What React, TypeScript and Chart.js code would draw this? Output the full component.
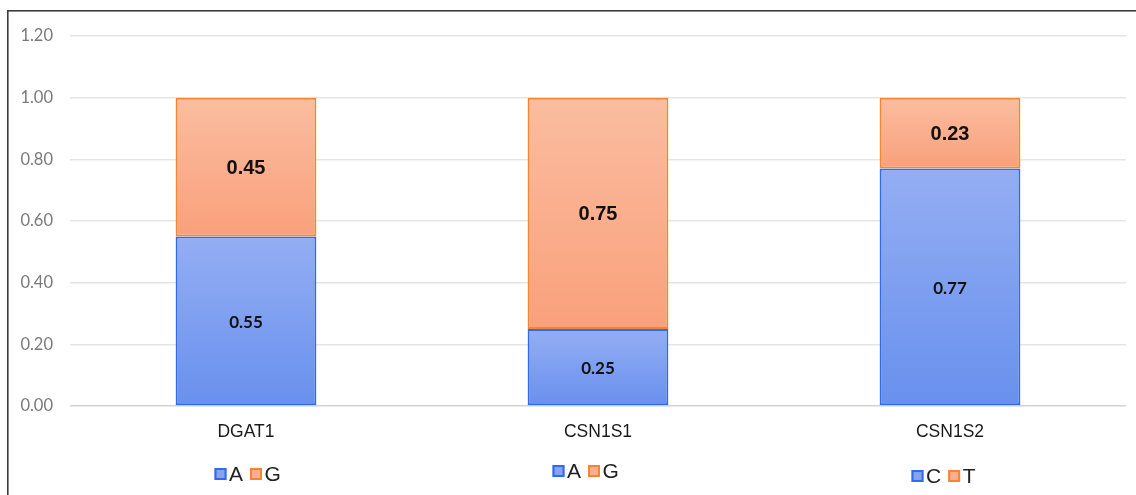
import React, { useEffect, useRef } from "react";
import { Chart, registerables } from "chart.js";

Chart.register(...registerables);

const categories = ["DGAT1", "CSN1S1", "CSN1S2"];
const lowerValues = [0.55, 0.25, 0.77];
const upperValues = [0.45, 0.75, 0.23];
const lowerAlleles = ["A", "A", "C"];
const upperAlleles = ["G", "G", "T"];
const yTicks = [0, 0.2, 0.4, 0.6, 0.8, 1.0, 1.2];

// layout of the per-category legends (style, not data)
const legendLayout = [
  { dx: -31.5, y: 474 },
  { dx: -45.5, y: 471 },
  { dx: -38.5, y: 476 },
];

const BLUE_TOP = "#94aef3";
const BLUE_BOTTOM = "#6890ee";
const BLUE_BORDER = "#2d6cef";
const ORANGE_TOP = "#fbbda0";
const ORANGE_BOTTOM = "#f9a07b";
const ORANGE_BORDER = "#f7842e";

function makeFill(top: string, bottom: string, fallback: string, lower: boolean) {
  return (ctx: any) => {
    const chart = ctx.chart;
    const y = chart.scales && chart.scales.y;
    if (!y || ctx.type !== "data" || !chart.chartArea) return fallback;
    const i = ctx.dataIndex;
    const base = lower ? 0 : lowerValues[i];
    const end = base + (lower ? lowerValues[i] : upperValues[i]);
    const y0 = y.getPixelForValue(end);
    const y1 = y.getPixelForValue(base);
    if (!isFinite(y0) || !isFinite(y1)) return fallback;
    const g = chart.ctx.createLinearGradient(0, y0, 0, y1);
    g.addColorStop(0, top);
    g.addColorStop(1, bottom);
    return g;
  };
}

const framePlugin = {
  id: "frame",
  beforeDraw(chart: any) {
    const c = chart.ctx;
    c.save();
    c.fillStyle = "#3c3c3c";
    c.fillRect(7, 10, chart.width - 7, 1.6);
    c.fillRect(7, 10, 1.6, chart.height - 10);
    c.restore();
  },
};

const labelPlugin = {
  id: "segLabels",
  afterDatasetsDraw(chart: any) {
    const c = chart.ctx;
    c.save();
    c.textAlign = "center";
    c.textBaseline = "middle";
    c.fillStyle = "#111111";
    chart.data.datasets.forEach((ds: any, di: number) => {
      const meta = chart.getDatasetMeta(di);
      c.font = di === 0 ? 'bold 17px Lato' : 'bold 20px "Liberation Sans"';
      meta.data.forEach((el: any, i: number) => {
        const v = ds.data[i];
        const yc = (el.y + el.base) / 2 + 1.5;
        c.fillText(Number(v).toFixed(2), el.x, yc);
      });
    });
    c.restore();
  },
};

const legendPlugin = {
  id: "catLegends",
  afterDraw(chart: any) {
    const c = chart.ctx;
    const xs = chart.scales.x;
    c.save();
    c.textBaseline = "middle";
    c.textAlign = "left";
    c.font = '21px "Liberation Sans"';
    categories.forEach((_, i) => {
      const lay = legendLayout[i];
      let x = xs.getPixelForValue(i) + lay.dx;
      const y = lay.y;
      const items = [
        { t: lowerAlleles[i], fill: "#87a3f1", border: BLUE_BORDER },
        { t: upperAlleles[i], fill: "#fbae90", border: ORANGE_BORDER },
      ];
      items.forEach((it) => {
        c.fillStyle = it.fill;
        c.fillRect(x, y - 6, 12, 12);
        c.strokeStyle = it.border;
        c.lineWidth = 2;
        c.strokeRect(x + 1, y - 5, 10, 10);
        c.fillStyle = "#222222";
        c.fillText(it.t, x + 14.5, y + 1);
        x += 14.5 + c.measureText(it.t).width + 7;
      });
    });
    c.restore();
  },
};

export default function App() {
  const ref = useRef<HTMLCanvasElement | null>(null);
  useEffect(() => {
    document.body.style.margin = "0";
    if (!ref.current) return;
    const chart = new Chart(ref.current, {
      type: "bar",
      data: {
        labels: categories,
        datasets: [
          {
            label: "lower",
            data: lowerValues,
            backgroundColor: makeFill(BLUE_TOP, BLUE_BOTTOM, "#7d9cf0", true),
            borderColor: BLUE_BORDER,
            borderWidth: 2,
            borderSkipped: false,
            categoryPercentage: 1,
            barPercentage: 0.4,
          },
          {
            label: "upper",
            data: upperValues,
            backgroundColor: makeFill(ORANGE_TOP, ORANGE_BOTTOM, "#faae8d", false),
            borderColor: ORANGE_BORDER,
            borderWidth: 2,
            borderSkipped: false,
            categoryPercentage: 1,
            barPercentage: 0.4,
          },
        ],
      },
      options: {
        animation: false,
        responsive: false,
        maintainAspectRatio: false,
        layout: { padding: { left: 0, top: 36, right: 10, bottom: 0 } },
        plugins: {
          legend: { display: false },
          tooltip: { enabled: false },
        },
        scales: {
          x: {
            stacked: true,
            grid: { display: false, drawTicks: false },
            border: { display: false },
            ticks: {
              color: "#1a1a1a",
              font: { family: '"Liberation Sans"', size: 17.5 },
              padding: 16,
            },
            afterFit: (s: any) => {
              s.height = 89;
            },
          },
          y: {
            stacked: true,
            min: 0,
            max: 1.2,
            afterBuildTicks: (s: any) => {
              s.ticks = yTicks.map((v) => ({ value: v }));
            },
            grid: {
              drawTicks: false,
              color: (ctx: any) => (ctx.tick && ctx.tick.value === 0 ? "#d2d2d2" : "#e5e5e5"),
              lineWidth: 1.6,
            },
            border: { display: false },
            ticks: {
              color: "#7a7a7a",
              font: { family: "Lato", size: 16.5 },
              padding: 17,
              callback: (v: any) => Number(v).toFixed(2),
            },
            afterFit: (s: any) => {
              s.width = 70;
            },
          },
        },
      },
      plugins: [framePlugin, labelPlugin, legendPlugin],
    });
    return () => chart.destroy();
  }, []);
  return (
    <div style={{ width: 1136, height: 495, overflow: "hidden", background: "#ffffff" }}>
      <canvas ref={ref} width={1136} height={495} style={{ display: "block" }} />
    </div>
  );
}
